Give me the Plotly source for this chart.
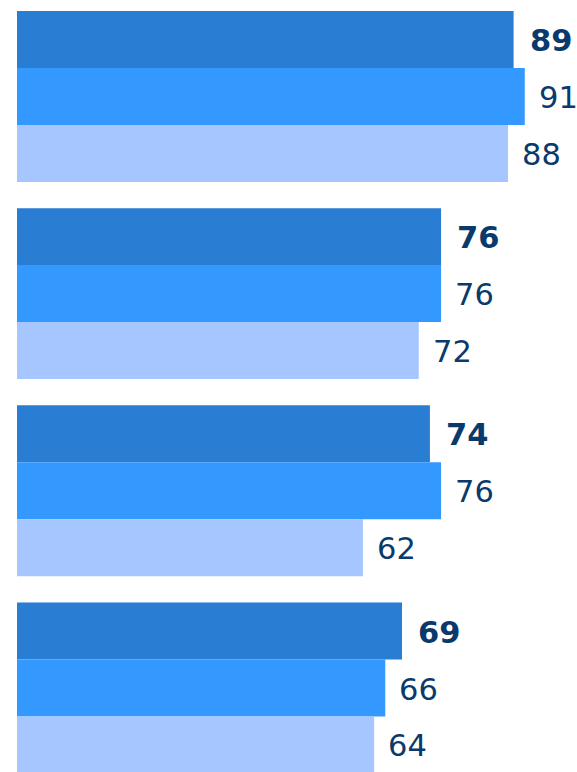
import plotly.graph_objects as go

groups = [0, 1, 2, 3]
series_a = [89, 76, 74, 69]
series_b = [91, 76, 76, 66]
series_c = [88, 72, 62, 64]
colors = ["#297DD3", "#3399FF", "#A6C6FF"]
text_color = "#0A3A6B"

fig = go.Figure()
all_series = [series_a, series_b, series_c]
for s, c in zip(all_series, colors):
    fig.add_trace(go.Bar(
        y=groups, x=s, orientation="h",
        marker=dict(color=c, line=dict(width=0)),
        hoverinfo="skip",
    ))

bar_w = 0.867 / 3
for i, s in enumerate(all_series):
    for g, v in zip(groups, s):
        fig.add_annotation(
            x=v, y=g + (i - 1) * bar_w,
            text=(f"<b>{v}</b>" if i == 0 else str(v)),
            showarrow=False, xanchor="left", yanchor="middle",
            xshift=12 if i else 14, yshift=-1,
            font=dict(family="DejaVu Sans, Verdana", size=30.5, color=text_color),
        )

fig.update_layout(
    width=577, height=772,
    margin=dict(l=17, r=0, t=0, b=0, pad=0),
    barmode="group", bargap=0.133, bargroupgap=0,
    plot_bgcolor="white", paper_bgcolor="white",
    showlegend=False,
    xaxis=dict(range=[0, 100.36], visible=False, fixedrange=True),
    yaxis=dict(range=[3.426, -0.489], visible=False, fixedrange=True),
)

fig.write_html(
    "out.html",
    config={"displayModeBar": False},
    post_script="document.body.style.margin='0';document.body.style.overflow='hidden';",
)
